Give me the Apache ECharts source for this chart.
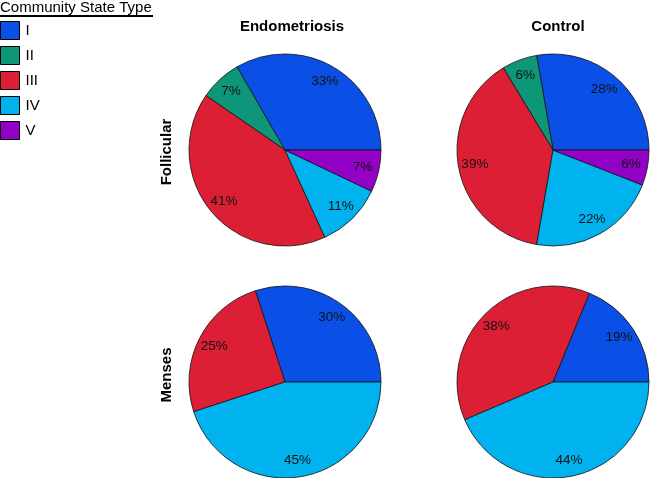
<!DOCTYPE html>
<html>
<head>
<meta charset="utf-8">
<script src="https://cdn.jsdelivr.net/npm/echarts@6/dist/echarts.min.js"></script>
<style>html,body{margin:0;padding:0;background:#fff}#c{width:650px;height:478px}</style>
</head>
<body>
<div id="c"></div>
<script>
var categories = ['I', 'II', 'III', 'IV', 'V'];
var colors = ['#0A50E6', '#0E9679', '#DC1F34', '#00B3EE', '#9300C6'];
var endoFollicular = [33, 7, 41, 11, 7];
var controlFollicular = [28, 6, 39, 22, 6];
var endoMenses = [30, 0, 25, 45, 0];
var controlMenses = [19, 0, 38, 44, 0];
var groupTitles = ['Endometriosis', 'Control'];
var phaseTitles = ['Follicular', 'Menses'];

var R = 96;
var cx = [285, 553], cy = [150, 382];
var font = '"Liberation Sans", Arial, Helvetica, sans-serif';

function toData(vals) {
  var d = [];
  vals.forEach(function (v, i) {
    if (v > 0) d.push({ name: categories[i], value: v, itemStyle: { color: colors[i] } });
  });
  return d;
}

var panels = [
  { vals: endoFollicular, c: [cx[0], cy[0]] },
  { vals: controlFollicular, c: [cx[1], cy[0]] },
  { vals: endoMenses, c: [cx[0], cy[1]] },
  { vals: controlMenses, c: [cx[1], cy[1]] }
];

var series = [];
panels.forEach(function (p) {
  series.push({
    type: 'pie', center: p.c, radius: [0, R], startAngle: 0, clockwise: false,
    animation: false, silent: true,
    itemStyle: { borderColor: '#111', borderWidth: 0.8 },
    label: { show: false }, labelLine: { show: false },
    data: toData(p.vals)
  });
  series.push({
    type: 'pie', center: p.c, radius: [57, R], startAngle: 0, clockwise: false,
    animation: false, silent: true, legendHoverLink: false,
    itemStyle: { color: 'rgba(0,0,0,0)', borderWidth: 0 },
    label: { show: true, position: 'inside', formatter: '{c}%', color: '#111',
             fontSize: 13.5, fontFamily: font },
    labelLine: { show: false },
    data: toData(p.vals).map(function (d) { return { name: d.name + ' ', value: d.value, itemStyle: { color: 'rgba(0,0,0,0)' } }; })
  });
});

var chart = echarts.init(document.getElementById('c'), null, { renderer: 'canvas' });
chart.setOption({
  backgroundColor: '#fff',
  animation: false,
  title: [
    { text: groupTitles[0], left: cx[0] + 7, top: 19, textAlign: 'center', padding: 0,
      textStyle: { fontSize: 15, fontWeight: 'bold', color: '#000', fontFamily: font } },
    { text: groupTitles[1], left: cx[1] + 5, top: 19, textAlign: 'center', padding: 0,
      textStyle: { fontSize: 15, fontWeight: 'bold', color: '#000', fontFamily: font } },
    { text: 'Community State Type', left: 0, top: 0, padding: 0,
      textStyle: { fontSize: 15, fontWeight: 'normal', color: '#000', fontFamily: font } }
  ],
  legend: {
    data: categories, orient: 'vertical', left: 0, top: 21, padding: 0,
    itemWidth: 19, itemHeight: 18, itemGap: 6, icon: 'rect',
    selectedMode: false,
    itemStyle: { borderColor: '#000', borderWidth: 1 },
    textStyle: { fontSize: 15, color: '#000', fontFamily: font, padding: [0, 0, 0, 1] }
  },
  graphic: [
    { type: 'line', shape: { x1: 0, y1: 16, x2: 153, y2: 16 }, style: { stroke: '#000', lineWidth: 2 } },
    { type: 'text', x: 167, y: cy[0] + 2, rotation: Math.PI / 2,
      style: { text: phaseTitles[0], font: 'bold 15px ' + font, fill: '#000', textAlign: 'center', textVerticalAlign: 'middle' } },
    { type: 'text', x: 167, y: cy[1] - 7, rotation: Math.PI / 2,
      style: { text: phaseTitles[1], font: 'bold 15px ' + font, fill: '#000', textAlign: 'center', textVerticalAlign: 'middle' } }
  ],
  series: series
});
</script>
</body>
</html>
